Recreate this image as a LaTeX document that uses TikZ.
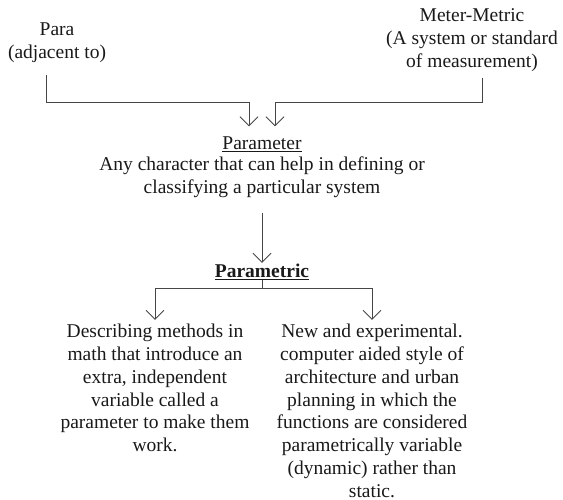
\documentclass[tikz,border=0pt]{standalone}
\usepackage{fontspec}
\setmainfont{Liberation Serif}
\usepackage{xcolor}
\usepackage{tikz}
\usetikzlibrary{arrows.meta,positioning}
\definecolor{linegrey}{RGB}{70,70,70}
\definecolor{textblack}{RGB}{25,25,25}
\tikzstyle{term} = [align=center, inner sep=0pt, text=textblack, font=\fontsize{19.5}{22.8}\selectfont]
\tikzstyle{title} = [term]
\tikzstyle{arrow} = [line width=0.9pt, draw=linegrey, -{Straight Barb[length=9pt,width=18pt]}]
\tikzstyle{branch} = [line width=0.9pt, draw=linegrey]

\begin{document}
\begin{tikzpicture}[x=1pt, y=1pt, node distance=5pt]
\useasboundingbox (0,0) rectangle (563,-500);

% Roots
\node [term] (para) at (57,-43) {Para\\(adjacent to)};
\node [term] (meter) at (472,-40) {Meter-Metric\\(A system or standard\\of measurement)};

% Parameter
\node [title] (param) at (262,-144) {\underline{Parameter}};
\node [term, below=5pt of param] (paramdef) {Any character that can help in defining or\\classifying a particular system};

% Parametric
\node [title, below=66pt of paramdef] (parametric) {\underline{\textbf{Parametric}}};

% Two meanings
\node [term, below=44pt of parametric, xshift=-107pt] (math) {Describing methods in\\math that introduce an\\extra, independent\\variable called a\\parameter to make them\\work.};
\node [term, below=44pt of parametric, xshift=110pt] (arch) {New and experimental.\\computer aided style of\\architecture and urban\\planning in which the\\functions are considered\\parametrically variable\\(dynamic) rather than\\static.};

% Join points
\coordinate (bend) at ([yshift=34pt]param.north);
\coordinate (inl) at ([shift={(-13pt,10pt)}]param.north);
\coordinate (inr) at ([shift={(13pt,10pt)}]param.north);

% Arrows
\draw [arrow] ([shift={(-11pt,-12pt)}]para.south) |- (bend -| inl) -- (inl);
\draw [arrow] ([shift={(10pt,-6pt)}]meter.south) |- (bend -| inr) -- (inr);
\draw [arrow] ([yshift=-15pt]paramdef.south) -- ([yshift=1pt]parametric.north);
\draw [branch] (parametric.south) -- ++(0,-9pt) coordinate (fork);
\draw [arrow] (fork) -| ([yshift=4pt]math.north);
\draw [arrow] (fork) -| ([yshift=4pt]arch.north);

\end{tikzpicture}
\end{document}
